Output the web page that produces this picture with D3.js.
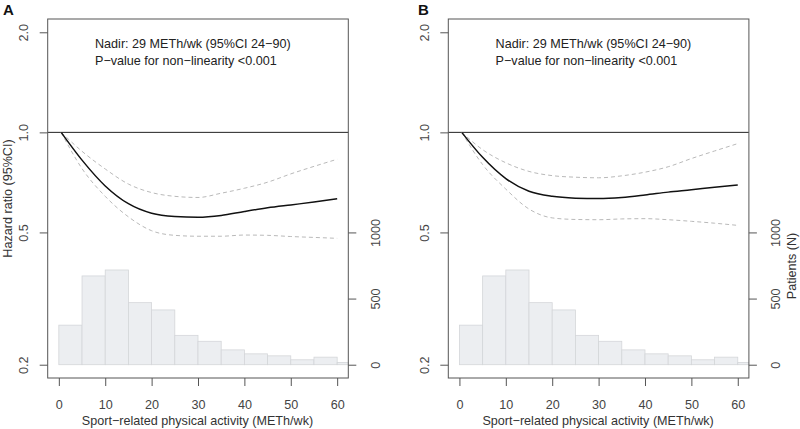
<!DOCTYPE html>
<html>
<head>
<meta charset="utf-8">
<script src="https://cdn.jsdelivr.net/npm/d3@7/dist/d3.min.js"></script>
<style>
  html, body { margin: 0; padding: 0; background: #fff; }
  svg { display: block; font-family: "Liberation Sans", Arial, sans-serif; }
</style>
</head>
<body>
<svg id="chart" width="800" height="429"></svg>
<script>
// ---------- data ----------
const panelLabels = ["A", "B"];
const curveX = [0.5, 5, 10, 15, 20, 25, 30, 35, 40, 45, 50, 55, 60];
const hrA      = [1.0, 0.825, 0.69, 0.61, 0.571, 0.558, 0.555, 0.562, 0.578, 0.593, 0.605, 0.617, 0.631];
const upperA   = [1.0, 0.877, 0.776, 0.699, 0.659, 0.642, 0.637, 0.656, 0.679, 0.708, 0.75, 0.79, 0.83];
const lowerA   = [1.0, 0.778, 0.642, 0.557, 0.506, 0.49, 0.487, 0.487, 0.491, 0.49, 0.486, 0.483, 0.48];
const hrB      = [1.0, 0.841, 0.726, 0.665, 0.642, 0.634, 0.632, 0.637, 0.648, 0.661, 0.672, 0.684, 0.695];
const upperB   = [1.0, 0.887, 0.81, 0.763, 0.741, 0.733, 0.73, 0.74, 0.759, 0.788, 0.834, 0.879, 0.925];
const lowerB   = [1.0, 0.80, 0.675, 0.588, 0.553, 0.547, 0.546, 0.549, 0.55, 0.546, 0.54, 0.533, 0.525];
const binStarts = [0, 5, 10, 15, 20, 25, 30, 35, 40, 45, 50, 55, 60];
const binWidth = 5;
const countsA = [299, 671, 716, 469, 414, 222, 177, 112, 82, 67, 37, 57, 17];
const countsB = [299, 671, 716, 469, 414, 222, 177, 112, 82, 67, 37, 57, 17];
const xTicks = [0, 10, 20, 30, 40, 50, 60];
const hrTicks = [0.2, 0.5, 1.0, 2.0];
const patientTicks = [0, 500, 1000];
const annotLines = ["Nadir: 29 METh/wk (95%CI 24\u221290)", "P\u2212value for non\u2212linearity <0.001"];
const xTitle = "Sport\u2212related physical activity (METh/wk)";
const yTitle = "Hazard ratio (95%CI)";
const y2Title = "Patients (N)";

const panels = [
  {label: panelLabels[0], hr: hrA, upper: upperA, lower: lowerA, counts: countsA, showY: true, showY2: false},
  {label: panelLabels[1], hr: hrB, upper: upperB, lower: lowerB, counts: countsB, showY: false, showY2: true}
];

// ---------- layout ----------
const svg = d3.select("#chart");
const boxLeft = 47.7, boxW = 300.6, boxTop = 19, boxBottom = 378;
const panelOffset = 400.6;
const ext = 0.04;
const logExt = ext * Math.log(2 / 0.2);
const fs = 12.6;

panels.forEach((p, i) => {
  const ox = i * panelOffset;
  const g = svg.append("g").attr("transform", `translate(${ox},0)`);
  const x = d3.scaleLinear().domain([-2.4, 62.4]).range([boxLeft, boxLeft + boxW]);
  const y = d3.scaleLog().domain([0.2 * Math.exp(-logExt), 2 * Math.exp(logExt)]).range([boxBottom, boxTop]);
  const yP = d3.scaleLinear().domain([0, 1000]).range([y(0.2), y(0.5)]);

  const clipId = "clip" + i;
  g.append("clipPath").attr("id", clipId).append("rect")
    .attr("x", boxLeft).attr("y", boxTop).attr("width", boxW).attr("height", boxBottom - boxTop);

  // histogram
  const hist = g.append("g").attr("clip-path", `url(#${clipId})`);
  hist.selectAll("rect").data(binStarts).join("rect")
    .attr("x", d => x(d))
    .attr("width", d => x(d + binWidth) - x(d))
    .attr("y", (d, k) => yP(p.counts[k]))
    .attr("height", (d, k) => yP(0) - yP(p.counts[k]))
    .attr("fill", "#eceef1")
    .attr("stroke", "#d4d6d9")
    .attr("stroke-width", 0.8);

  // reference line at 1.0
  g.append("line").attr("x1", boxLeft).attr("x2", boxLeft + boxW)
    .attr("y1", y(1)).attr("y2", y(1)).attr("stroke", "#222").attr("stroke-width", 1);

  const line = (vals) => d3.line().x((d, k) => x(curveX[k])).y(d => y(d)).curve(d3.curveMonotoneX)(vals);
  const curves = g.append("g").attr("clip-path", `url(#${clipId})`);
  [p.upper, p.lower].forEach(v => {
    curves.append("path").attr("d", line(v)).attr("fill", "none")
      .attr("stroke", "#b9b9b9").attr("stroke-width", 1).attr("stroke-dasharray", "4,3");
  });
  curves.append("path").attr("d", line(p.hr)).attr("fill", "none")
    .attr("stroke", "#111").attr("stroke-width", 1.5);

  // box
  g.append("rect").attr("x", boxLeft).attr("y", boxTop).attr("width", boxW).attr("height", boxBottom - boxTop)
    .attr("fill", "none").attr("stroke", "#555").attr("stroke-width", 1);

  // x axis
  const xa = g.append("g").attr("transform", `translate(0,${boxBottom})`)
    .call(d3.axisBottom(x).tickValues(xTicks).tickSize(8).tickFormat(d3.format("d")));
  xa.select(".domain").remove();
  xa.selectAll(".tick line").attr("stroke", "#555");
  xa.selectAll(".tick text").attr("font-size", fs).attr("fill", "#444").attr("dy", 0).attr("y", 31);

  // left y axis
  const ya = g.append("g").attr("transform", `translate(${boxLeft},0)`)
    .call(d3.axisLeft(y).tickValues(hrTicks).tickSize(8).tickFormat(d3.format(".1f")));
  ya.select(".domain").remove();
  ya.selectAll(".tick line").attr("stroke", "#555");
  ya.selectAll(".tick text").attr("font-size", fs).attr("fill", "#444")
    .attr("x", 0).attr("y", -19.4).attr("dy", 0).attr("text-anchor", "middle")
    .attr("transform", "rotate(-90)");

  // right patients axis
  const ya2 = g.append("g").attr("transform", `translate(${boxLeft + boxW},0)`)
    .call(d3.axisRight(yP).tickValues(patientTicks).tickSize(8).tickFormat(d3.format("d")));
  ya2.select(".domain").remove();
  ya2.selectAll(".tick line").attr("stroke", "#555");
  ya2.selectAll(".tick text").attr("font-size", fs).attr("fill", "#444")
    .attr("x", 0).attr("y", 31.5).attr("dy", 0).attr("text-anchor", "middle")
    .attr("transform", "rotate(-90)");

  // annotation
  annotLines.forEach((t, k) => {
    g.append("text").attr("x", 95).attr("y", 48.3 + k * 16.9)
      .attr("font-size", fs).attr("fill", "#222").text(t);
  });

  // x title
  g.append("text").attr("x", (x(0) + x(60)) / 2 - 0.5).attr("y", 425)
    .attr("text-anchor", "middle").attr("font-size", fs).attr("fill", "#333").text(xTitle);

  if (p.showY) {
    g.append("text").attr("transform", `translate(11.8,${(boxTop + boxBottom) / 2}) rotate(-90)`)
      .attr("text-anchor", "middle").attr("font-size", fs).attr("fill", "#333").text(yTitle);
  }
  if (p.showY2) {
    g.append("text").attr("transform", `translate(${796 - ox},266) rotate(-90)`)
      .attr("text-anchor", "middle").attr("font-size", fs).attr("fill", "#333").text(y2Title);
  }

  // panel letter
  g.append("text").attr("x", i === 0 ? 3 : 17.5).attr("y", 14.5)
    .attr("font-size", 15).attr("font-weight", "bold").attr("fill", "#111").text(p.label);
});
</script>
</body>
</html>
